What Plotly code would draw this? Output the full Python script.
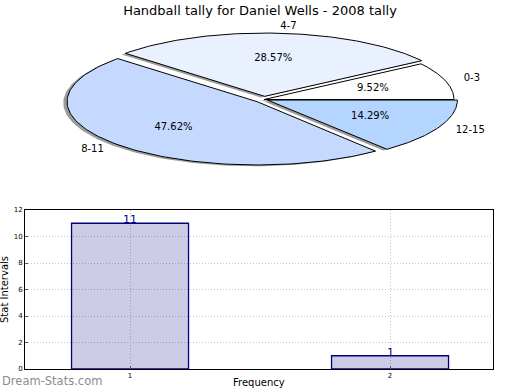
import numpy as np
import plotly.graph_objects as go

# ---------------- data ----------------
chart_title = "Handball tally for Daniel Wells - 2008 tally"
pie_labels = ["0-3", "4-7", "8-11", "12-15"]
pie_values = [2, 6, 10, 3]
pie_colors = ["#ffffff", "#e9f1ff", "#c5d9ff", "#b4d5ff"]
pie_explode = [0.0, 0.05, 0.05, 0.02]

bar_x = [1, 2]
bar_values = [11, 1]
bar_ticks = [1, 2]
y_ticks = [0, 2, 4, 6, 8, 10, 12]
x_title = "Frequency"
y_title = "Stat Intervals"
watermark = "Dream-Stats.com"

FONT = "DejaVu Sans, sans-serif"
W, H = 520, 390

fig = go.Figure()

# ---------------- pie (drawn as filled wedges in a squashed axis) ----------------
total = float(sum(pie_values))
fracs = [v / total for v in pie_values]
starts = np.concatenate([[0.0], np.cumsum(fracs)[:-1]]) * 360.0


def wedge(theta1, theta2, cx, cy, r=1.0, n=120):
    t = np.radians(np.linspace(theta1, theta2, n))
    xs = np.concatenate([[cx], cx + r * np.cos(t), [cx]])
    ys = np.concatenate([[cy], cy + r * np.sin(t), [cy]])
    return xs, ys


geo = []
for lab, f, s, e in zip(pie_labels, fracs, starts, pie_explode):
    t1, t2 = s, s + f * 360.0
    mid = np.radians((t1 + t2) / 2)
    cx, cy = e * np.cos(mid), e * np.sin(mid)
    geo.append((t1, t2, mid, cx, cy))

# shadows
for (t1, t2, mid, cx, cy) in geo:
    xs, ys = wedge(t1, t2, cx - 0.02, cy - 0.02)
    fig.add_trace(go.Scatter(x=xs, y=ys, mode="lines", fill="toself",
                             fillcolor="rgba(90,90,90,0.6)",
                             line=dict(width=0, color="rgba(0,0,0,0)"),
                             hoverinfo="skip", showlegend=False,
                             xaxis="x", yaxis="y"))
# wedges
for (t1, t2, mid, cx, cy), col in zip(geo, pie_colors):
    xs, ys = wedge(t1, t2, cx, cy)
    fig.add_trace(go.Scatter(x=xs, y=ys, mode="lines", fill="toself",
                             fillcolor=col, line=dict(width=1, color="black"),
                             hoverinfo="skip", showlegend=False,
                             xaxis="x", yaxis="y"))

# labels and percentages
for lab, f, (t1, t2, mid, cx, cy) in zip(pie_labels, fracs, geo):
    lx, ly = cx + 1.1 * np.cos(mid), cy + 1.1 * np.sin(mid)
    fig.add_trace(go.Scatter(x=[lx], y=[ly], mode="text", text=[lab],
                             textposition="middle right" if lx > 0 else "middle left",
                             textfont=dict(family=FONT, size=10, color="black"),
                             hoverinfo="skip", showlegend=False,
                             xaxis="x", yaxis="y", cliponaxis=False))
    px, py = cx + 0.6 * np.cos(mid), cy + 0.6 * np.sin(mid)
    fig.add_trace(go.Scatter(x=[px], y=[py], mode="text", text=["%.2f%%" % (f * 100)],
                             textposition="middle center",
                             textfont=dict(family=FONT, size=10, color="black"),
                             hoverinfo="skip", showlegend=False,
                             xaxis="x", yaxis="y", cliponaxis=False))

# ---------------- bar chart ----------------
fig.add_trace(go.Bar(x=bar_x, y=bar_values, width=0.45,
                     marker=dict(color="rgba(0,0,128,0.2)",
                                 line=dict(color="#000080", width=1.3)),
                     hoverinfo="skip", showlegend=False,
                     xaxis="x2", yaxis="y2"))

bar_annos = [dict(text=str(v), x=xv, y=v, xref="x2", yref="y2", showarrow=False,
                  xanchor="center", yanchor="bottom", yshift=-5,
                  font=dict(family=FONT, size=11, color="#000080"))
             for xv, v in zip(bar_x, bar_values)]

# pie geometry in pixels
pcx, pcy = 264.0, 99.5
rx, ry = 190.0, 63.3
top_px, bot_px = 20.0, 182.0

ax_common = dict(showline=True, mirror=True, linecolor="black", linewidth=1,
                 ticks="inside", ticklen=3, tickcolor="#555555",
                 showgrid=True, gridcolor="#c4c4c4", griddash="1px,2px", gridwidth=1,
                 zeroline=False, tickfont=dict(family=FONT, size=7, color="black"),
                 fixedrange=True, automargin=False)

fig.update_layout(
    width=W, height=H,
    margin=dict(l=0, r=0, t=0, b=0),
    paper_bgcolor="white", plot_bgcolor="white",
    showlegend=False,
    title=dict(text=chart_title, x=0.5, xanchor="center", y=1 - 10.5 / H, yanchor="middle",
               font=dict(family=FONT, size=13, color="black")),
    xaxis=dict(domain=[0, 1], range=[-pcx / rx, (W - pcx) / rx], visible=False,
               fixedrange=True, anchor="y"),
    yaxis=dict(domain=[1 - bot_px / H, 1 - top_px / H],
               range=[-(bot_px - pcy) / ry, (pcy - top_px) / ry], visible=False,
               fixedrange=True, anchor="x"),
    xaxis2=dict(domain=[25 / W, 493 / W], range=[0.596, 2.396], tickvals=bar_ticks,
                anchor="y2", **ax_common),
    yaxis2=dict(domain=[1 - 369 / H, 1 - 210 / H], range=[0, 12], tickvals=y_ticks,
                anchor="x2", **ax_common),
    annotations=bar_annos + [
        dict(text=y_title, x=4 / W, y=1 - 290 / H, xref="paper", yref="paper",
             textangle=-90, showarrow=False, xanchor="center", yanchor="middle",
             font=dict(family=FONT, size=10, color="black")),
        dict(text=x_title, x=259 / W, y=1 - 389.5 / H, xref="paper", yref="paper",
             showarrow=False, xanchor="center", yanchor="bottom",
             font=dict(family=FONT, size=10, color="black")),
        dict(text=watermark, x=0, y=1 - 381 / H, xref="paper", yref="paper",
             showarrow=False, xanchor="left", yanchor="middle",
             font=dict(family=FONT, size=11.5, color="#8c8c8c")),
    ],
)

fig.write_html("out.html", config={"displayModeBar": False},
               post_script="document.body.style.margin='0';document.body.style.overflow='hidden';")
